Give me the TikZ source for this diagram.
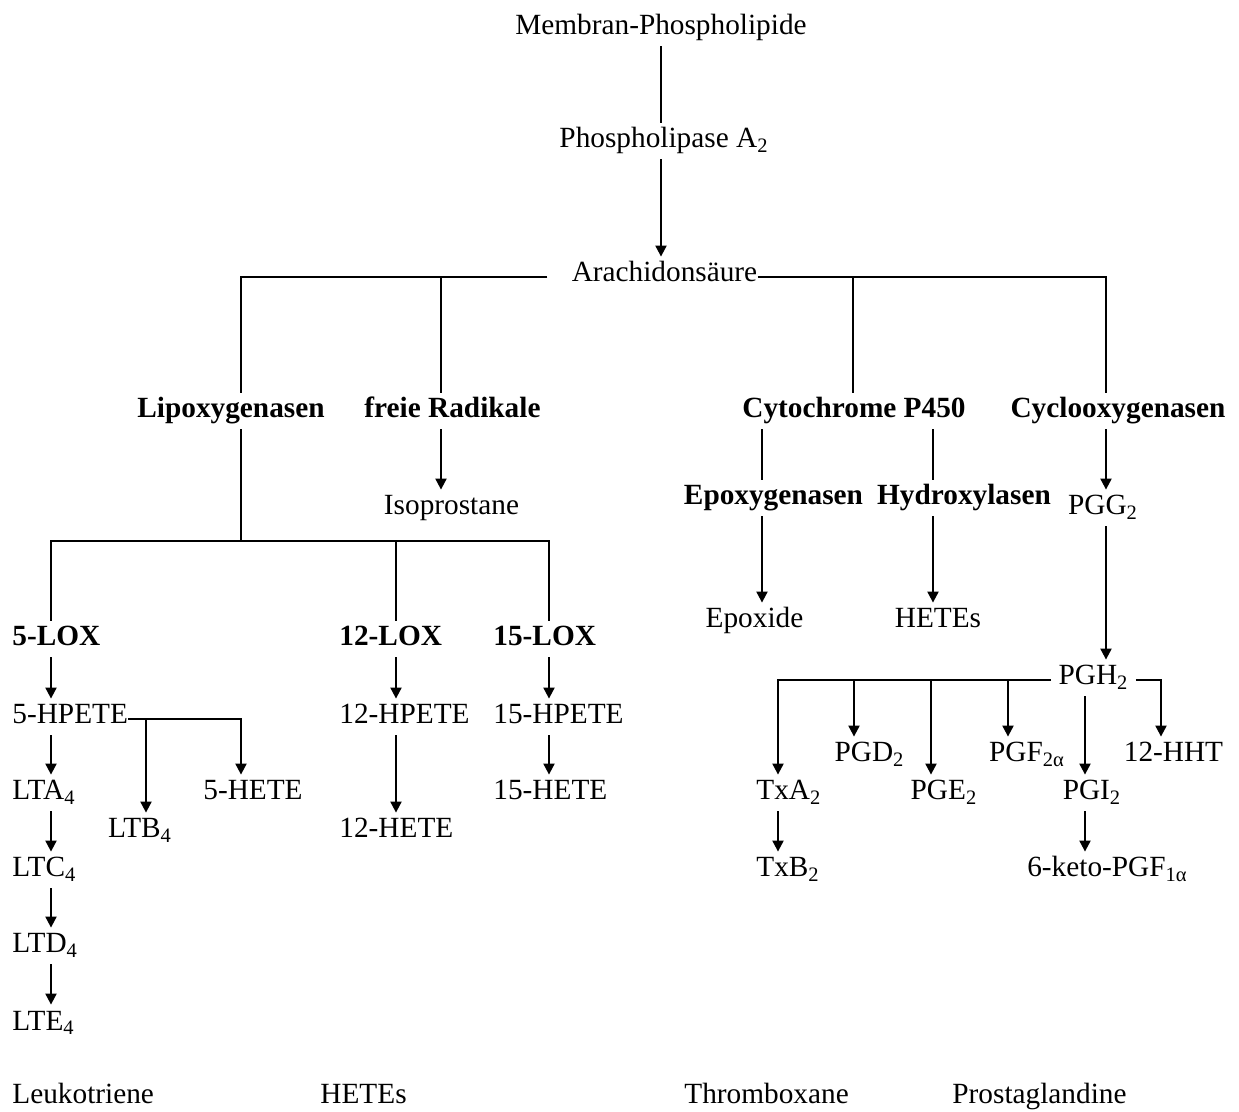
\documentclass[tikz,border=0pt]{standalone}
\usepackage{fontspec}
\setmainfont{Liberation Serif}
\usetikzlibrary{arrows.meta}
\begin{document}
\begin{tikzpicture}[x=0.5pt,y=-0.5pt,
  every node/.style={font=\fontsize{14.65}{17}\selectfont, inner xsep=0pt, inner ysep=2.5pt, text height=10pt, text depth=3pt},
  lbl/.style={anchor=base},
  lblw/.style={anchor=base west},
  enz/.style={font=\fontsize{14.65}{17}\selectfont\bfseries},
  ln/.style={line width=1pt},
  arr/.style={line width=1pt, -{Triangle[length=5.5pt,width=5.5pt]}}]
\useasboundingbox (0,0) rectangle (1239,1112);
% column coordinates
\coordinate (x51) at (51,0);
\coordinate (x146) at (146,0);
\coordinate (x241) at (241,0);
\coordinate (x396) at (396,0);
\coordinate (x441) at (441,0);
\coordinate (x549) at (549,0);
\coordinate (x762) at (762,0);
\coordinate (x853) at (853,0);
\coordinate (x933) at (933,0);
\coordinate (x1106) at (1106,0);
\coordinate (x778) at (778,0);
\coordinate (x854) at (854,0);
\coordinate (x931) at (931,0);
\coordinate (x1008) at (1008,0);
\coordinate (x1085) at (1085,0);
\coordinate (x1161) at (1161,0);
% nodes
\node[lbl] (mem) at (661,35) {Membran-Phospholipide};
\node[lbl] (pla) at (664,148) {Phospholipase A\textsubscript{2}};
\node[lbl] (ara) at (664.5,282) {Arachidonsäure};
\node[lbl,enz] (lip) at (231,418) {Lipoxygenasen};
\node[lbl,enz] (frei) at (452.5,418) {freie Radikale};
\node[lbl,enz] (cyt) at (854,418) {Cytochrome P450};
\node[lbl,enz] (cyc) at (1118,418) {Cyclooxygenasen};
\node[lbl] (iso) at (451.5,515) {Isoprostane};
\node[lbl,enz] (epo) at (773.5,505) {Epoxygenasen};
\node[lbl,enz] (hyd) at (964,505) {Hydroxylasen};
\node[lbl] (pgg) at (1103,515) {PGG\textsubscript{2}};
\node[lbl] (epx) at (754.5,628) {Epoxide};
\node[lbl] (hetes) at (938,628) {HETEs};
\node[lblw,enz] (lox5) at (12,646) {5-LOX};
\node[lblw,enz] (lox12) at (339,646) {12-LOX};
\node[lblw,enz] (lox15) at (493,646) {15-LOX};
\node[lblw] (hp5) at (12,724) {5-HPETE};
\node[lblw] (hp12) at (339,724) {12-HPETE};
\node[lblw] (hp15) at (493,724) {15-HPETE};
\node[lblw] (lta) at (12,800) {LTA\textsubscript{4}};
\node[lbl] (hete5) at (253,800) {5-HETE};
\node[lbl] (ltb) at (140,838) {LTB\textsubscript{4}};
\node[lblw] (hete12) at (339,838) {12-HETE};
\node[lblw] (hete15) at (493,800) {15-HETE};
\node[lblw] (ltc) at (12,877) {LTC\textsubscript{4}};
\node[lblw] (ltd) at (12,953) {LTD\textsubscript{4}};
\node[lblw] (lte) at (12,1030) {LTE\textsubscript{4}};
\node[lbl] (pgh) at (1093.5,685) {PGH\textsubscript{2}};
\node[lblw] (txa) at (756,800) {TxA\textsubscript{2}};
\node[lblw] (txb) at (756,877) {TxB\textsubscript{2}};
\node[lbl] (pgd) at (869.5,762) {PGD\textsubscript{2}};
\node[lbl] (pge) at (944,800) {PGE\textsubscript{2}};
\node[lbl] (pgf) at (1027,762) {PGF\textsubscript{2α}};
\node[lbl] (pgi) at (1092,800) {PGI\textsubscript{2}};
\node[lbl] (hht) at (1173.5,762) {12-HHT};
\node[lbl] (keto) at (1107.5,877) {6-keto-PGF\textsubscript{1α}};
\node[lblw] (leuk) at (12,1103) {Leukotriene};
\node[lblw] (heteb) at (320,1103) {HETEs};
\node[lblw] (thro) at (684,1103) {Thromboxane};
\node[lblw] (pros) at (952,1103) {Prostaglandine};
% connectors top
\draw[ln] (mem.south) -- (pla.north -| mem.south);
\draw[arr] (pla.south -| mem.south) -- (ara.north -| mem.south);
\draw[ln] ([xshift=-12pt]ara.mid west) -| (lip.north -| x241);
\draw[ln] (ara.mid east) -| (cyc.north -| x1106);
\draw[ln] (x441 |- ara.mid) -- (frei.north -| x441);
\draw[ln] (x853 |- ara.mid) -- (cyt.north -| x853);
\draw[arr] (frei.south -| x441) -- (iso.north -| x441);
% lipoxygenase tree
\coordinate (j1) at (241,541);
\draw[ln] (lip.south -| x241) -- (j1);
\draw[ln] (lox5.north -| x51) |- (j1) -| (lox15.north -| x549);
\draw[ln] (j1 -| x396) -- (lox12.north -| x396);
\draw[arr] (lox5.south -| x51) -- (hp5.north -| x51);
\draw[arr] (hp5.south -| x51) -- (lta.north -| x51);
\draw[arr] (lta.south -| x51) -- (ltc.north -| x51);
\draw[arr] (ltc.south -| x51) -- (ltd.north -| x51);
\draw[arr] (ltd.south -| x51) -- (lte.north -| x51);
\draw[arr] (hp5.mid east) -| (hete5.north -| x241);
\draw[arr] (x146 |- hp5.mid) -- (ltb.north -| x146);
\draw[arr] (lox12.south -| x396) -- (hp12.north -| x396);
\draw[arr] (hp12.south -| x396) -- (hete12.north -| x396);
\draw[arr] (lox15.south -| x549) -- (hp15.north -| x549);
\draw[arr] (hp15.south -| x549) -- (hete15.north -| x549);
% cytochrome
\draw[ln] (cyt.south -| x762) -- (epo.north -| x762);
\draw[ln] (cyt.south -| x933) -- (hyd.north -| x933);
\draw[arr] (epo.south -| x762) -- (epx.north -| x762);
\draw[arr] (hyd.south -| x933) -- (hetes.north -| x933);
% cyclooxygenase
\draw[arr] (cyc.south -| x1106) -- (pgg.north -| x1106);
\draw[arr] (pgg.south -| x1106) -- (pgh.north -| x1106);
\draw[arr] ([xshift=-3.5pt]pgh.mid west) -| (txa.north -| x778);
\draw[arr] (x854 |- pgh.mid) -- (pgd.north -| x854);
\draw[arr] (x931 |- pgh.mid) -- (pge.north -| x931);
\draw[arr] (x1008 |- pgh.mid) -- (pgf.north -| x1008);
\draw[arr] ([xshift=3.5pt]pgh.mid east) -| (hht.north -| x1161);
\draw[arr] (pgh.south -| x1085) -- (pgi.north -| x1085);
\draw[arr] (txa.south -| x778) -- (txb.north -| x778);
\draw[arr] (pgi.south -| x1085) -- (keto.north -| x1085);
\end{tikzpicture}
\end{document}
